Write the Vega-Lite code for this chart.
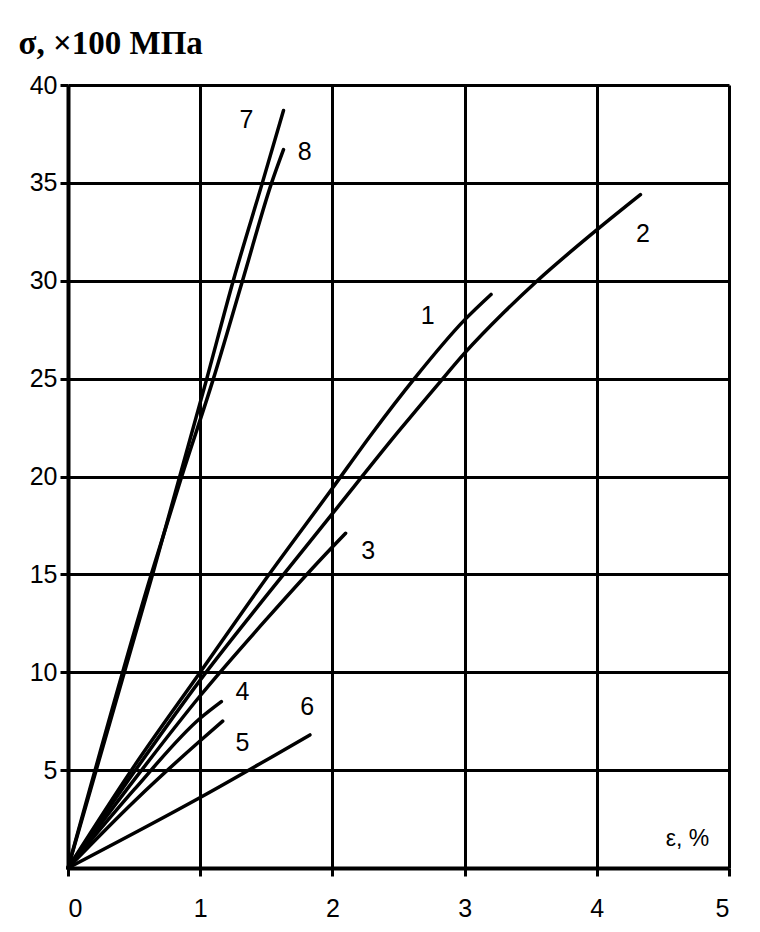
{
  "$schema": "https://vega.github.io/schema/vega-lite/v6.json",
  "autosize": {"type": "none"},
  "padding": {"left": 68, "top": 85, "right": 31, "bottom": 64},
  "width": 661,
  "height": 783,
  "background": "white",
  "config": {"view": {"stroke": null}},
  "datasets": {
    "curves": [
      {"curve": "1", "eps": 0, "sigma": 0}, {"curve": "1", "eps": 0.5, "sigma": 5.2}, {"curve": "1", "eps": 1, "sigma": 10}, {"curve": "1", "eps": 1.5, "sigma": 14.8}, {"curve": "1", "eps": 2, "sigma": 19.4}, {"curve": "1", "eps": 2.3, "sigma": 22.2}, {"curve": "1", "eps": 2.62, "sigma": 25}, {"curve": "1", "eps": 3, "sigma": 28}, {"curve": "1", "eps": 3.2, "sigma": 29.3},
      {"curve": "2", "eps": 0, "sigma": 0}, {"curve": "2", "eps": 0.5, "sigma": 4.9}, {"curve": "2", "eps": 1, "sigma": 9.6}, {"curve": "2", "eps": 1.5, "sigma": 13.9}, {"curve": "2", "eps": 2, "sigma": 18.1}, {"curve": "2", "eps": 2.5, "sigma": 22.3}, {"curve": "2", "eps": 2.81, "sigma": 24.8}, {"curve": "2", "eps": 3, "sigma": 26.3}, {"curve": "2", "eps": 3.3, "sigma": 28.4}, {"curve": "2", "eps": 3.55, "sigma": 30}, {"curve": "2", "eps": 4, "sigma": 32.6}, {"curve": "2", "eps": 4.33, "sigma": 34.4},
      {"curve": "3", "eps": 0, "sigma": 0}, {"curve": "3", "eps": 0.5, "sigma": 4.5}, {"curve": "3", "eps": 1, "sigma": 8.8}, {"curve": "3", "eps": 1.5, "sigma": 12.7}, {"curve": "3", "eps": 2, "sigma": 16.4}, {"curve": "3", "eps": 2.1, "sigma": 17.1},
      {"curve": "4", "eps": 0, "sigma": 0}, {"curve": "4", "eps": 0.5, "sigma": 4}, {"curve": "4", "eps": 1, "sigma": 7.65}, {"curve": "4", "eps": 1.16, "sigma": 8.5},
      {"curve": "5", "eps": 0, "sigma": 0}, {"curve": "5", "eps": 0.5, "sigma": 3.4}, {"curve": "5", "eps": 1, "sigma": 6.5}, {"curve": "5", "eps": 1.17, "sigma": 7.5},
      {"curve": "6", "eps": 0, "sigma": 0}, {"curve": "6", "eps": 1, "sigma": 3.6}, {"curve": "6", "eps": 1.83, "sigma": 6.8},
      {"curve": "7", "eps": 0, "sigma": 0}, {"curve": "7", "eps": 0.64, "sigma": 15}, {"curve": "7", "eps": 1.05, "sigma": 25}, {"curve": "7", "eps": 1.25, "sigma": 30}, {"curve": "7", "eps": 1.47, "sigma": 35}, {"curve": "7", "eps": 1.63, "sigma": 38.7},
      {"curve": "8", "eps": 0, "sigma": 0}, {"curve": "8", "eps": 0.63, "sigma": 15}, {"curve": "8", "eps": 0.86, "sigma": 20}, {"curve": "8", "eps": 1.1, "sigma": 25}, {"curve": "8", "eps": 1.32, "sigma": 30}, {"curve": "8", "eps": 1.54, "sigma": 35}, {"curve": "8", "eps": 1.63, "sigma": 36.7}
    ],
    "labels": [
      {"label": "1", "eps": 2.72, "sigma": 28.2},
      {"label": "2", "eps": 4.35, "sigma": 32.4},
      {"label": "3", "eps": 2.27, "sigma": 16.2},
      {"label": "4", "eps": 1.32, "sigma": 9.0},
      {"label": "5", "eps": 1.32, "sigma": 6.4},
      {"label": "6", "eps": 1.81, "sigma": 8.2},
      {"label": "7", "eps": 1.35, "sigma": 38.2},
      {"label": "8", "eps": 1.79, "sigma": 36.6}
    ]
  },
  "layer": [
    {
      "data": {"name": "curves"},
      "mark": {"type": "line", "color": "black", "strokeWidth": 3.5, "strokeCap": "round", "interpolate": "monotone"},
      "encoding": {
        "x": {
          "field": "eps", "type": "quantitative",
          "scale": {"domain": [0, 5], "nice": false},
          "axis": {
            "values": [0, 1, 2, 3, 4, 5], "format": "d",
            "grid": true, "gridColor": "black", "gridWidth": 3, "gridOpacity": 1,
            "domainColor": "black", "domainWidth": 4,
            "tickColor": "black", "tickWidth": 3, "tickSize": 8,
            "labelFont": "Liberation Sans", "labelFontSize": 25, "labelColor": "black", "labelPadding": 20,
            "title": "ε, %", "titleFont": "Liberation Sans", "titleFontSize": 23, "titleFontWeight": "normal", "titleColor": "black",
            "titleX": 619, "titleY": -30, "titleAlign": "center", "titleBaseline": "middle", "titleAnchor": null
          }
        },
        "y": {
          "field": "sigma", "type": "quantitative",
          "scale": {"domain": [0, 40], "nice": false},
          "axis": {
            "values": [5, 10, 15, 20, 25, 30, 35, 40], "format": "d",
            "grid": true, "gridColor": "black", "gridWidth": 3, "gridOpacity": 1,
            "domainColor": "black", "domainWidth": 4,
            "tickColor": "black", "tickWidth": 3, "tickSize": 8,
            "labelFont": "Liberation Sans", "labelFontSize": 25, "labelColor": "black", "labelPadding": 3,
            "title": "σ, ×100 МПа", "titleFont": "Liberation Serif", "titleFontSize": 33, "titleFontWeight": "bold", "titleColor": "black",
            "titleAngle": 0, "titleX": -50, "titleY": -42, "titleAlign": "left", "titleBaseline": "middle", "titleAnchor": null
          }
        },
        "detail": {"field": "curve"}
      }
    },
    {
      "data": {"name": "labels"},
      "mark": {"type": "text", "font": "Liberation Sans", "fontSize": 25, "color": "black", "align": "center", "baseline": "middle"},
      "encoding": {
        "x": {"field": "eps", "type": "quantitative"},
        "y": {"field": "sigma", "type": "quantitative"},
        "text": {"field": "label"}
      }
    }
  ]
}
